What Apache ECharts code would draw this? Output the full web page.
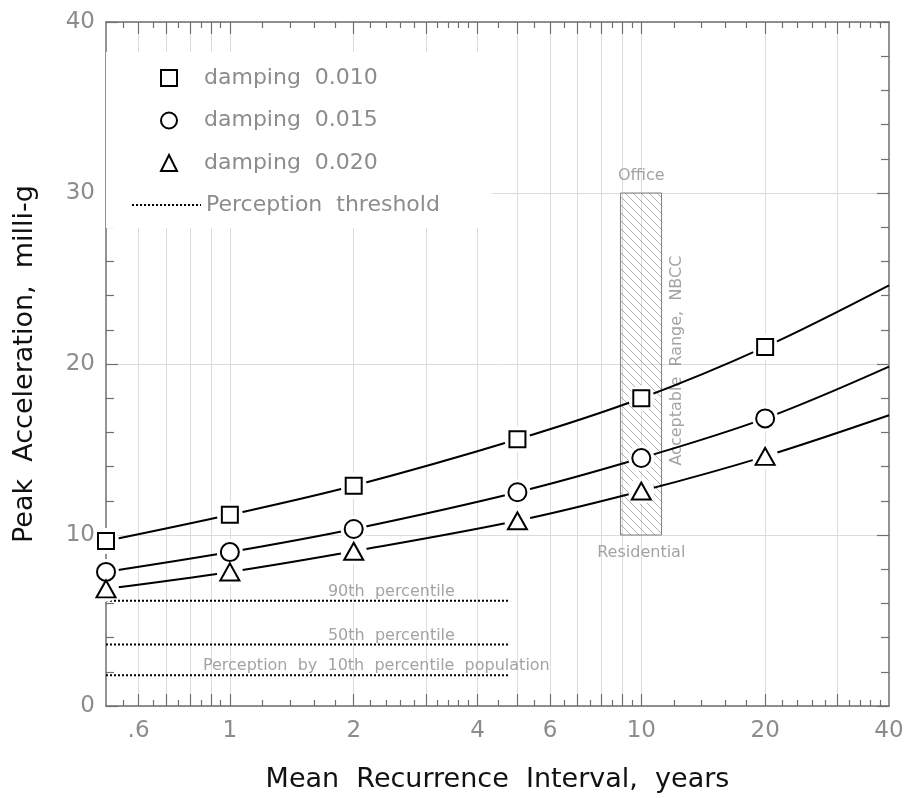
<!DOCTYPE html>
<html>
<head>
<meta charset="utf-8">
<script src="https://cdn.jsdelivr.net/npm/echarts@6/dist/echarts.min.js"></script>
<style>
html,body{margin:0;padding:0;background:#fff;}
#main_chart{width:907px;height:798px;}
</style>
</head>
<body>
<div id="main_chart"></div>
<script>
// values
var years = [0.5, 1, 2, 5, 10, 20, 40];
var markerCount = 6; // last point (40) has no marker
var damp010 = [9.65, 11.18, 12.88, 15.6, 18.0, 21.0, 24.6];
var damp015 = [7.84, 9.0, 10.35, 12.5, 14.5, 16.82, 19.85];
var damp020 = [6.85, 7.84, 9.05, 10.83, 12.57, 14.6, 17.0];
var dampNames = ['damping  0.010', 'damping  0.015', 'damping  0.020'];

// perception threshold lines
var threshFrom = 0.5, threshTo = 4.75;
var threshLevels = [6.15, 3.6, 1.8];
var threshNames = ['90th  percentile', '50th  percentile', 'Perception  by  10th  percentile  population'];
var threshLabelX = [2.47, 2.47, 2.27];
var threshLegend = 'Perception  threshold';

// NBCC acceptable range box
var nbccX = [8.9, 11.2];
var nbccY = [10, 30];
var nbccNotes = ['Office', 'Residential', 'Acceptable  Range,  NBCC'];
var nbccNoteX = [10, 10, 12.2];
var nbccNoteY = [30, 10, 20.2];

// axis ticks
var majorTicks = [0.6, 0.7, 0.8, 0.9, 1, 2, 3, 4, 5, 6, 7, 8, 9, 10, 20, 30];
var minorTicks = [0.55, 0.65, 0.75, 0.85, 0.95, 1.2, 1.4, 1.6, 1.8, 2.2, 2.4, 2.6, 2.8,
  3.2, 3.4, 3.6, 3.8, 4.5, 5.5, 6.5, 7.5, 8.5, 9.5, 12, 14, 16, 18, 22, 24, 26, 28, 32, 34, 36, 38];
var xTickLabels = [0.6, 1, 2, 4, 6, 10, 20, 40];

var FONT = 'DejaVu Sans';
var AXIS_GRAY = '#6f6f6f';
var LABEL_GRAY = '#8c8c8c';

// hatch pattern for the NBCC box
var hatch = document.createElement('canvas');
hatch.width = 8; hatch.height = 8;
var hctx = hatch.getContext('2d');
hctx.strokeStyle = '#9a9a9a';
hctx.lineWidth = 0.8;
hctx.beginPath();
hctx.moveTo(0, 0); hctx.lineTo(8, 8);
hctx.moveTo(-4, 4); hctx.lineTo(4, 12);
hctx.moveTo(4, -4); hctx.lineTo(12, 4);
hctx.stroke();

function pairs(xs, ys, n){
  var out = [];
  for(var i=0;i<n;i++){ out.push([xs[i], ys[i]]); }
  return out;
}

function xAxisDef(pos, ticks, len, withLabels, withSplit, showLine){
  return {
    type: 'log', logBase: 10, min: 0.5, max: 40, position: pos,
    axisLine: {show: showLine, onZero: false, lineStyle: {color: AXIS_GRAY, width: 1.5}},
    axisTick: {show: true, inside: true, length: len, customValues: ticks,
      lineStyle: {color: AXIS_GRAY, width: 1.2}},
    axisLabel: {show: withLabels, customValues: xTickLabels, margin: 14,
      fontFamily: FONT, fontSize: 23, color: LABEL_GRAY,
      formatter: function(v){ return v < 1 ? ('' + v).replace(/^0/, '') : '' + Math.round(v); }},
    splitLine: {show: withSplit, lineStyle: {color: '#dcdcdc', width: 1}},
    minorTick: {show: false}, minorSplitLine: {show: false}
  };
}

function yAxisDef(pos, withLabels, withSplit){
  return {
    type: 'value', min: 0, max: 40, interval: 10, position: pos,
    axisLine: {show: true, lineStyle: {color: AXIS_GRAY, width: 1.5}},
    axisTick: {show: true, inside: true, length: 12, lineStyle: {color: AXIS_GRAY, width: 1.2}},
    minorTick: {show: true, splitNumber: 5, length: 8, lineStyle: {color: AXIS_GRAY, width: 1.2}},
    axisLabel: {show: withLabels, margin: 11, fontFamily: FONT, fontSize: 23, color: LABEL_GRAY},
    splitLine: {show: withSplit, lineStyle: {color: '#dcdcdc', width: 1}}
  };
}

var symbols = ['rect', 'circle', 'triangle'];
var symSizes = [16, 18, [19, 17]];
var curves = [damp010, damp015, damp020];

var series = [];
for(var k=0;k<3;k++){
  // fitted curve
  series.push({
    name: 'curve' + k, type: 'line', smooth: 0.35, symbol: 'none', z: 2,
    data: pairs(years, curves[k], years.length),
    lineStyle: {color: '#000', width: 2}
  });
  // white halo so the curve breaks around markers
  series.push({
    name: 'halo' + k, type: 'scatter', z: 20, silent: true,
    symbol: 'circle', symbolSize: 26,
    itemStyle: {color: '#fff', borderWidth: 0, opacity: 1},
    data: pairs(years, curves[k], markerCount)
  });
}
for(var m=0;m<3;m++){
  // markers
  series.push({
    name: dampNames[m], type: 'scatter', z: 21,
    symbol: symbols[m], symbolSize: symSizes[m],
    itemStyle: {color: '#fff', borderColor: '#000', borderWidth: 2, opacity: 1},
    data: pairs(years, curves[m], markerCount)
  });
}

for(var t=0;t<threshLevels.length;t++){
  series.push({
    name: threshLegend, type: 'line', symbol: 'none', z: 3,
    data: [[threshFrom, threshLevels[t]], [threshTo, threshLevels[t]]],
    itemStyle: {color: '#000'},
    lineStyle: {color: '#000', width: 2, type: 'dotted'}
  });
}

// percentile labels
var threshLabelData = [];
for(var t2=0;t2<threshLevels.length;t2++){
  threshLabelData.push({value: [threshLabelX[t2], threshLevels[t2]], label: {formatter: threshNames[t2]}});
}
series.push({
  name: 'threshLabels', type: 'scatter', symbolSize: 0, z: 6, silent: true,
  data: threshLabelData,
  label: {show: true, position: 'top', distance: 1, fontFamily: FONT, fontSize: 16, color: LABEL_GRAY}
});

// NBCC notes + hatched box
var nbccData = [
  {value: [nbccNoteX[0], nbccNoteY[0]], label: {formatter: nbccNotes[0], position: 'top', distance: 9}},
  {value: [nbccNoteX[1], nbccNoteY[1]], label: {formatter: nbccNotes[1], position: 'bottom', distance: 10}},
  {value: [nbccNoteX[2], nbccNoteY[2]], label: {formatter: nbccNotes[2], position: 'inside', rotate: 90}}
];
series.push({
  name: 'nbcc', type: 'scatter', symbolSize: 0, z: 1, silent: true,
  data: nbccData,
  label: {show: true, fontFamily: FONT, fontSize: 16, color: LABEL_GRAY},
  markArea: {
    silent: true,
    itemStyle: {color: {image: hatch, repeat: 'repeat'}, borderColor: '#808080', borderWidth: 1},
    data: [[{coord: [nbccX[0], nbccY[1]]}, {coord: [nbccX[1], nbccY[0]]}]]
  }
});

var myChart = echarts.init(document.getElementById('main_chart'));
var option = {
  backgroundColor: '#fff',
  animation: false,
  grid: {left: 106, right: 18, top: 22, bottom: 90, containLabel: false},
  legend: [
    {
      data: dampNames, orient: 'vertical', left: 106, top: 52,
      padding: [15, 112, 10, 54], itemWidth: 16, itemHeight: 16, itemGap: 20.5,
      backgroundColor: '#fff', selectedMode: false, z: 30,
      textStyle: {fontFamily: FONT, fontSize: 22, color: LABEL_GRAY, lineHeight: 22, padding: [0, 0, 0, 22]}
    },
    {
      data: [threshLegend], orient: 'vertical', left: 106, top: 184,
      padding: [10, 52, 12, 25], itemWidth: 69, itemHeight: 12,
      backgroundColor: '#fff', selectedMode: false, z: 30,
      itemStyle: {opacity: 0},
      textStyle: {fontFamily: FONT, fontSize: 22, color: LABEL_GRAY, lineHeight: 22}
    }
  ],
  xAxis: [
    xAxisDef('bottom', majorTicks, 12, true, true, true),
    xAxisDef('bottom', minorTicks, 6, false, false, false),
    xAxisDef('top', majorTicks, 12, false, false, true),
    xAxisDef('top', minorTicks, 6, false, false, false)
  ],
  yAxis: [yAxisDef('left', true, true), yAxisDef('right', false, false)],
  series: series
};
option.xAxis[0].name = 'Mean  Recurrence  Interval,  years';
option.xAxis[0].nameLocation = 'middle';
option.xAxis[0].nameGap = 60;
option.xAxis[0].nameTextStyle = {fontFamily: FONT, fontSize: 27, color: '#111'};
option.yAxis[0].name = 'Peak  Acceleration,  milli-g';
option.yAxis[0].nameLocation = 'middle';
option.yAxis[0].nameGap = 68;
option.yAxis[0].nameTextStyle = {fontFamily: FONT, fontSize: 27, color: '#111'};

myChart.setOption(option);
</script>
</body>
</html>
